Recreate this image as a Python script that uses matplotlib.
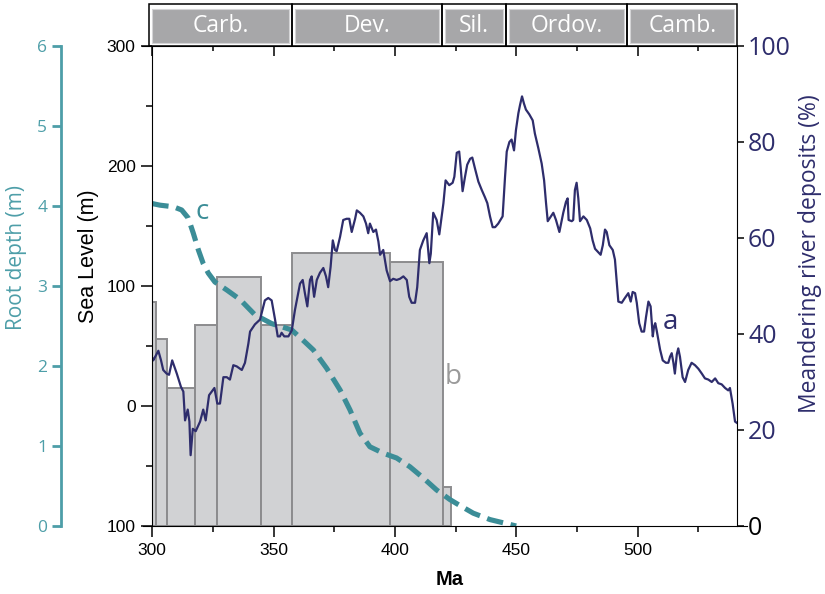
import matplotlib
matplotlib.use('Agg')
import matplotlib.pyplot as plt
from matplotlib.patches import Rectangle
from matplotlib.ticker import MultipleLocator
import numpy as np

# --- data ---------------------------------------------------------------
# a: sea level (m) vs age (Ma)
sl_age = [300.0, 300.4, 302.5, 303.6, 304.5, 305.9, 306.9, 308.2, 310.1, 311.8,
          312.8, 313.5, 314.6, 315.3, 315.8, 316.7, 317.9, 319.7, 321.0, 322.0,
          323.4, 325.6, 326.8, 327.9, 329.3, 330.7, 332.0, 333.4, 334.8, 336.9,
          338.2, 339.6, 340.3, 342.3, 344.4, 346.4, 347.8, 349.2, 350.6, 351.7,
          352.6, 353.3, 354.4, 356.1, 357.5, 358.8, 360.9, 362.0, 362.9, 363.9,
          365.0, 365.7, 366.7, 367.8, 369.1, 370.5, 371.6, 372.5, 373.5, 374.4,
          375.3, 376.0, 377.4, 378.7, 380.1, 381.2, 382.2, 383.6, 384.3, 385.6,
          387.0, 388.1, 389.0, 389.7, 391.1, 392.2, 393.2, 393.9, 395.2, 396.6,
          398.0, 399.3, 400.7, 402.1, 403.5, 404.9, 405.9, 406.9, 408.3, 409.2,
          410.3, 411.7, 413.1, 414.2, 414.8, 415.8, 417.2, 418.3, 419.3, 420.0,
          420.9, 422.4, 423.8, 424.5, 425.5, 426.5, 427.1, 427.9, 428.9, 429.8,
          431.0, 431.9, 433.0, 434.4, 435.8, 437.1, 438.1, 439.2, 440.3, 441.3,
          442.6, 444.4, 445.4, 446.1, 447.2, 448.1, 449.1, 449.9, 450.9, 451.6,
          452.4, 453.2, 454.0, 455.4, 456.8, 457.7, 459.1, 460.5, 461.5, 462.3,
          463.0, 464.3, 465.3, 466.4, 467.8, 469.4, 470.5, 471.2, 471.6, 472.9,
          473.5, 474.2, 474.9, 475.6, 476.3, 477.7, 479.1, 480.5, 481.5, 482.5,
          483.4, 484.8, 485.7, 486.6, 487.3, 488.4, 489.8, 490.7, 491.4, 492.1,
          493.5, 494.8, 496.2, 497.2, 498.0, 499.0, 499.7, 500.7, 501.7, 502.7,
          503.5, 504.5, 505.4, 506.3, 506.8, 507.3, 507.9, 509.3, 510.4, 511.7,
          512.7, 513.4, 514.1, 514.8, 515.4, 516.2, 516.8, 517.5, 518.6, 519.6,
          520.9, 522.3, 523.7, 525.1, 526.5, 527.8, 529.2, 530.6, 532.0, 533.3,
          534.7, 536.1, 537.4, 538.1, 539.2, 540.2, 540.9]
sl_m = [40, 38, 46, 38, 30, 27, 26, 38, 27, 16,
        12, -12, -3, -13, -41, -19, -21, -13, -3, -12,
        9, 15, 2, 2, 24, 24, 22, 34, 33, 30,
        36, 52, 62, 68, 72, 88, 90, 88, 72, 58,
        58, 61, 58, 58, 63, 80, 102, 105, 94, 83,
        105, 108, 91, 105, 111, 115, 108, 99, 116, 138,
        130, 129, 141, 155, 156, 156, 145, 156, 163, 161,
        158, 152, 144, 152, 145, 147, 137, 126, 130, 113,
        104, 106, 105, 106, 108, 105, 91, 86, 86, 99,
        130, 138, 144, 119, 127, 161, 155, 143, 158, 169,
        188, 184, 186, 191, 211, 212, 199, 179, 191, 201,
        206, 207, 198, 187, 180, 174, 169, 158, 149, 149,
        152, 158, 191, 212, 220, 222, 213, 230, 244, 251,
        258, 252, 247, 243, 238, 227, 215, 202, 188, 169,
        154, 158, 161, 155, 145, 161, 170, 173, 155, 154,
        155, 180, 186, 173, 154, 158, 155, 148, 138, 131,
        129, 126, 134, 147, 145, 134, 130, 122, 105, 87,
        86, 90, 94, 87, 95, 94, 86, 69, 62, 62,
        74, 87, 83, 58, 66, 69, 63, 47, 38, 36,
        36, 41, 44, 36, 27, 43, 48, 41, 24, 20,
        30, 36, 34, 31, 27, 23, 22, 20, 23, 19,
        18, 15, 13, 15, 2, -13, -14]

# b: meandering river deposits (%) per interval
river_edges = [299.1, 301.5, 306.2, 317.6, 326.5, 344.7, 357.6, 398.0, 419.7, 423.0]
river_pct = [46.6, 38.9, 28.8, 41.9, 51.8, 41.9, 56.8, 55.0, 8.2]

# c: root depth (m)
root_age = [300.0, 303.2, 308.7, 312.1, 314.8, 316.9, 319.0, 321.0, 323.1, 325.8,
            330.7, 336.2, 342.3, 349.2, 357.5, 362.9, 366.4, 371.9, 377.4, 381.5,
            385.6, 389.7, 395.2, 400.7, 406.2, 411.7, 417.2, 422.7, 426.0, 432.3,
            439.2, 450.0]
root_depth = [4.03, 4.01, 3.99, 3.95, 3.85, 3.66, 3.45, 3.28, 3.16, 3.05,
              2.95, 2.83, 2.64, 2.53, 2.45, 2.30, 2.20, 1.97, 1.70, 1.45,
              1.16, 0.99, 0.91, 0.85, 0.74, 0.60, 0.45, 0.33, 0.27, 0.16,
              0.08, 0.0]

periods = ['Carb.', 'Dev.', 'Sil.', 'Ordov.', 'Camb.']
period_edges = [298.8, 357.5, 419.3, 445.6, 495.8, 541.2]

sl_ticks = [-100, 0, 100, 200, 300]
sl_tick_labels = ['100', '0', '100', '200', '300']
pct_ticks = [0, 20, 40, 60, 80, 100]
root_ticks = [0, 1, 2, 3, 4, 5, 6]

navy = '#2e2d6c'
teal = '#3b8d97'
teal_axis = '#4d9ea8'
helv = 'Liberation Sans'
myriad = 'Open Sans'

fig = plt.figure(figsize=(8.25, 5.94), dpi=100)
ax = fig.add_axes([0.1846, 0.1145, 0.7087, 0.8081])
ax_r = ax.twinx()
ax_root = ax.twinx()

# layering: bars at the back, then roots, then sea level
ax_r.set_zorder(1)
ax_root.set_zorder(2)
ax.set_zorder(3)
ax.patch.set_visible(False)
ax_root.patch.set_visible(False)

# bars (b)
ax_r.bar(river_edges[:-1], river_pct, width=np.diff(river_edges), align='edge',
         color='#d1d2d4', edgecolor='#8c8c8e', linewidth=1.4)
ax_r.set_ylim(0, 100)

# roots (c)
ax_root.plot(root_age, root_depth, color=teal, lw=3.7,
             linestyle=(0, (3.2, 1.5)), dash_capstyle='butt')
ax_root.set_ylim(0, 6)

# sea level (a)
ax.plot(sl_age, sl_m, color=navy, lw=1.6, solid_joinstyle='round')
ax.set_xlim(300, 541)
ax.set_ylim(-100, 300)

# main axis styling
for s in ['top', 'right']:
    ax.spines[s].set_visible(False)
ax.spines['bottom'].set_bounds(296, 545)
ax.xaxis.set_major_locator(MultipleLocator(50))
ax.xaxis.set_minor_locator(MultipleLocator(25))
ax.set_yticks(sl_ticks, sl_tick_labels)
ax.yaxis.set_minor_locator(MultipleLocator(50))
ax.tick_params(which='major', direction='out', length=8, width=1.1, labelsize=12.5, pad=4)
ax.tick_params(which='minor', direction='out', length=4, width=1.1)
ax.tick_params(axis='x', which='both', top=False)
ax.tick_params(axis='y', which='both', right=False)
for lbl in ax.get_xticklabels() + ax.get_yticklabels():
    lbl.set_fontfamily(helv)

# right axis
for s in ['top', 'left', 'bottom']:
    ax_r.spines[s].set_visible(False)
ax_r.set_yticks(pct_ticks, [str(t) for t in pct_ticks])
ax_r.tick_params(axis='y', direction='out', length=5, width=1.1, labelsize=18, pad=3)
for lbl in ax_r.get_yticklabels():
    lbl.set_fontfamily(myriad)
    lbl.set_color('black' if lbl.get_text() == '0' else navy)

# root depth axis
for s in ['top', 'right', 'bottom']:
    ax_root.spines[s].set_visible(False)
ax_root.spines['left'].set_visible(True)
ax_root.spines['left'].set_position(('outward', 65.7))
ax_root.spines['left'].set_color(teal_axis)
ax_root.spines['left'].set_linewidth(2)
ax_root.spines['left'].set_bounds(0, 6)
ax_root.yaxis.set_ticks_position('left')
ax_root.set_yticks(root_ticks, [str(t) for t in root_ticks])
ax_root.tick_params(axis='y', direction='out', length=6.5, width=2, color=teal_axis,
                    labelcolor=teal_axis, labelsize=12.5, pad=3.5)
for lbl in ax_root.get_yticklabels():
    lbl.set_fontfamily(myriad)

# axis titles
fig.text(0.0202, 0.567, 'Root depth (m)', rotation=90, ha='center', va='center',
         color=teal_axis, fontsize=15, family=myriad)
fig.text(0.1067, 0.568, 'Sea Level (m)', rotation=90, ha='center', va='center',
         color='black', fontsize=15.5, family=helv)
fig.text(0.9818, 0.5725, 'Meandering river deposits (%)', rotation=90, ha='center',
         va='center', color=navy, fontsize=16.5, family=myriad)
fig.text(0.545, 0.024, 'Ma', ha='center', va='center', fontsize=14.5,
         fontweight='bold', family=helv)

# curve labels
ax.text(513.4, 70, 'a', color=navy, fontsize=20, family=myriad, ha='center', va='center')
ax.text(424.0, 24, 'b', color='#9a9a9a', fontsize=20, family=myriad, ha='center', va='center')
ax.text(320.4, 162, 'c', color=teal, fontsize=20, family=myriad, ha='center', va='center')

# period strip on top
strip = fig.add_axes([0.1846, 0.9226, 0.7087, 0.0702])
strip.set_xlim(300, 541)
strip.set_ylim(0, 1)
strip.patch.set_visible(False)
for s in ['top', 'left', 'right']:
    strip.spines[s].set_visible(False)
strip.spines['bottom'].set_bounds(295.6, 541)
strip.xaxis.set_major_locator(MultipleLocator(50))
strip.xaxis.set_minor_locator(MultipleLocator(25))
strip.tick_params(axis='x', which='major', direction='out', length=7, width=1.1, labelbottom=False)
strip.tick_params(axis='x', which='minor', direction='out', length=3.5, width=1.1)
strip.set_yticks([])
inset = 1.24
for name, x0, x1 in zip(periods, period_edges[:-1], period_edges[1:]):
    strip.add_patch(Rectangle((x0, 0), x1 - x0, 1, fill=False, edgecolor='black',
                              lw=1.1, clip_on=False))
    strip.add_patch(Rectangle((x0 + inset, 0.065), x1 - x0 - 2 * inset, 0.832,
                              facecolor='#a7a7a9', edgecolor='#d4d4d6', lw=0.8,
                              clip_on=False))
    strip.text((x0 + x1) / 2, 0.47, name, ha='center', va='center', color='white',
               fontsize=16.5, family=myriad)

fig.savefig('out.png', dpi=100)
